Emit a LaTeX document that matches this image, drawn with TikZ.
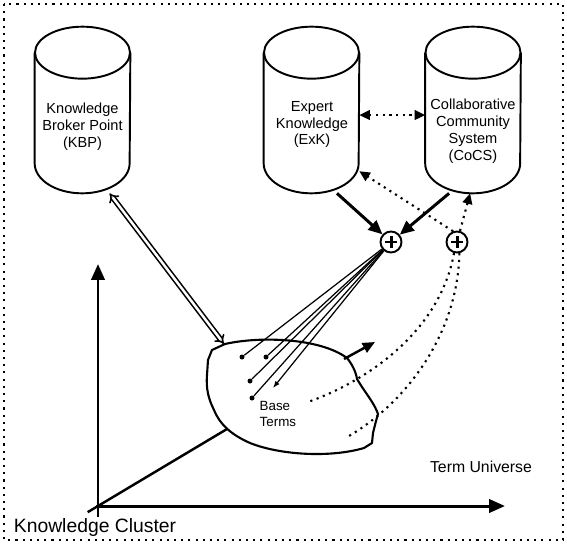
\documentclass[tikz,border=0pt]{standalone}
\usepackage{fontspec}
\setmainfont{Liberation Sans}
\usetikzlibrary{positioning, calc, arrows.meta}
\tikzset{
    dbbody/.style={minimum width=1.9cm, minimum height=3.32cm, inner sep=0pt},
    dbtext/.style={align=center, font=\fontsize{8.3}{9.6}\selectfont},
    cyl/.style={line width=1.1pt},
    sumnode/.style={circle, draw, line width=1.1pt, minimum size=0.42cm, inner sep=0pt, fill=white,
        path picture={\draw[line width=1.7pt]
            ([xshift=-3.4pt]path picture bounding box.center) -- ([xshift=3.4pt]path picture bounding box.center)
            ([yshift=-3.4pt]path picture bounding box.center) -- ([yshift=3.4pt]path picture bounding box.center);}},
    termdot/.style={circle, fill, minimum size=0.1cm, inner sep=0pt},
    spoke/.style={line width=0.7pt},
    heavy/.style={line width=1.7pt, -{Triangle[length=8pt,width=7pt]}},
    dots/.style={line width=1.2pt, dash pattern=on 1.2pt off 2.6pt},
    blob/.style={line width=1.2pt, line join=round},
    axisline/.style={line width=1.7pt, -{Triangle[length=9pt,width=7.5pt]}}
}

\begin{document}
\begin{tikzpicture}[x=0.02cm, y=-0.02cm]
    \useasboundingbox (0,0) rectangle (567,544);
    \draw[dots, dash pattern=on 1.2pt off 2.9pt] (4,4) rectangle (563,540);

    % the three stores
    \node[dbbody] (kbp) at (82.5,110) {};
    \node[dbbody] (exk) at (311.5,110) {};
    \node[dbbody] (cocs) at (473,110) {};
    \foreach \n in {kbp,exk,cocs}{
        \draw[cyl] ($(\n.north)+(0,26)$) ellipse[x radius=0.95cm, y radius=0.52cm];
        \draw[cyl] ($(\n.north west)+(0,26)$) -- ($(\n.south west)+(0,-30)$)
            arc[start angle=180, end angle=360, x radius=0.95cm, y radius=0.6cm]
            -- ($(\n.north east)+(0,26)$);
    }
    \node[dbtext] (kbplabel) at (82.5,127) {Knowledge\\Broker Point\\(KBP)};
    \node[dbtext] (exklabel) at (312,124.5) {Expert\\Knowledge\\(ExK)};
    \node[dbtext] (cocslabel) at (473,131) {Collaborative\\Community\\System\\(CoCS)};

    \node[sumnode] (sum1) at (391,242) {};
    \node[sumnode] (sum2) at (457,242) {};

    % term universe
    \draw[blob] (212,350) -- (225,344)
        .. controls (260,336) and (320,338) .. (347,358)
        .. controls (352,364) and (356,372) .. (357,379)
        -- (362,387)
        .. controls (368,396) and (375,405) .. (378,414)
        -- (376,421) -- (373,433) -- (372,443) -- (364,448)
        .. controls (330,458) and (280,455) .. (250,443)
        .. controls (232,435) and (220,425) .. (214,410)
        .. controls (208,398) and (206,388) .. (207,375)
        -- (208,360) -- cycle;
    \coordinate (blobtop) at (224,344);
    \coordinate (blobne) at (344,359);
    \coordinate (blobsw) at (227,429);
    \coordinate (drift) at (375,342);
    \coordinate (e1) at (308,402);
    \coordinate (e2) at (349,436);

    \node[termdot] (t1) at (242,357) {};
    \node[termdot] (t2) at (266,357) {};
    \node[termdot] (t3) at (250,381) {};
    \node[termdot] (t4) at (252,398) {};
    \coordinate (t5) at (273,388);
    \node[anchor=west, align=left, font=\fontsize{7.6}{9}\selectfont] (base) at (253.5,414) {Base\\Terms};

    % axes
    \coordinate (o) at (98,506);
    \coordinate (ytip) at (98,264);
    \coordinate (xtip) at (505,506);
    \draw[axisline] ($(o)+(0,11)$) -- (ytip);
    \draw[axisline] ($(o)+(-2,0)$) -- (xtip);
    \draw[line width=1.4pt] ($(o)!-0.08!(blobsw)$) -- (blobsw);
    \node[font=\fontsize{9}{11}\selectfont] (tu) at (481,467) {Term Universe};
    \node[font=\fontsize{11}{13}\selectfont] (kc) at (95,527) {Knowledge Cluster};

    % connectors
    \draw[line width=0.9pt, double, double distance=1.4pt, {Implies}-{Implies}] (kbp.-72) -- (blobtop);
    \draw[dots, {Triangle[length=6pt,width=5.5pt]}-{Triangle[length=6pt,width=5.5pt]}] (exk.-6) -- (cocs.186);
    \draw[heavy] (exk.-73) -- (sum1);
    \draw[heavy] (cocs.-106) -- (sum1);
    \draw[dots, -{Triangle[length=6pt,width=5.5pt]}] (sum2.110) -- (exk.-52);
    \draw[dots, -{Triangle[length=6pt,width=5.5pt]}] (sum2.75) -- (cocs.-92);
    \draw[dots] (sum2.255) .. controls (440,330) and (370,380) .. (e1);
    \draw[dots] (sum2.282) .. controls (458,330) and (410,400) .. (e2);
    \foreach \t in {t1,t2,t3,t4}
        \draw[spoke] (sum1) -- (\t);
    \draw[spoke, -{Latex[length=4pt,width=3pt]}] (sum1) -- (t5);
    \draw[line width=1.4pt, -{Triangle[length=7pt,width=6pt]}] (blobne) -- (drift);
\end{tikzpicture}
\end{document}
